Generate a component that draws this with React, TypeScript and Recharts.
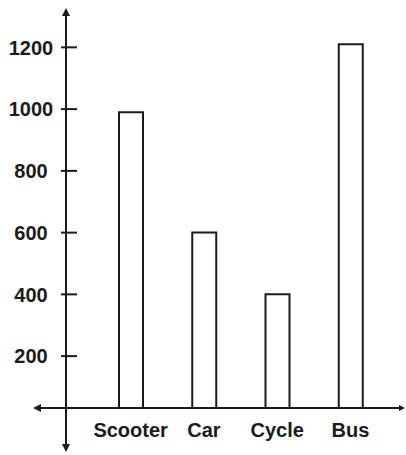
import React from "react";
import { BarChart, Bar, XAxis, YAxis } from "recharts";

const vehicles = ["Scooter", "Car", "Cycle", "Bus"];
const counts = [990, 600, 400, 1210];
const yTicks = [200, 400, 600, 800, 1000, 1200];

const data = vehicles.map((name, i) => ({ name, count: counts[i] }));

const W = 406;
const H = 455;
const PLOT_LEFT = 66;
const X_AXIS_H = 47;
const PLOT_BOTTOM = H - X_AXIS_H;
const INK = "#1b1b1b";
const FONT = "'Liberation Sans', Arial, Helvetica, sans-serif";

const YTick = (props: any) => {
  const { y, payload } = props;
  return (
    <g>
      <line x1={PLOT_LEFT - 5} x2={PLOT_LEFT + 11} y1={y} y2={y} stroke={INK} strokeWidth={2} />
      <text
        x={31}
        y={y}
        dy="0.36em"
        textAnchor="middle"
        fill={INK}
        fontFamily={FONT}
        fontWeight={700}
        fontSize={20}
      >
        {payload.value}
      </text>
    </g>
  );
};

const XTick = (props: any) => {
  const { x, payload } = props;
  return (
    <text
      x={x}
      y={PLOT_BOTTOM + 29}
      textAnchor="middle"
      fill={INK}
      fontFamily={FONT}
      fontWeight={700}
      fontSize={20}
    >
      {payload.value}
    </text>
  );
};

// axis lines with arrowheads, drawn over the chart
function Axes() {
  const a = 8; // arrowhead length
  const h = 4; // arrowhead half width
  return (
    <svg
      width={W}
      height={H}
      style={{ position: "absolute", left: 0, top: 0, pointerEvents: "none" }}
    >
      <line x1={PLOT_LEFT} x2={PLOT_LEFT} y1={10} y2={450} stroke={INK} strokeWidth={2} />
      <line x1={35} x2={402} y1={PLOT_BOTTOM} y2={PLOT_BOTTOM} stroke={INK} strokeWidth={2} />
      <polygon points={`${PLOT_LEFT},8 ${PLOT_LEFT - h},${8 + a} ${PLOT_LEFT + h},${8 + a}`} fill={INK} />
      <polygon points={`${PLOT_LEFT},452 ${PLOT_LEFT - h},${452 - a} ${PLOT_LEFT + h},${452 - a}`} fill={INK} />
      <polygon points={`33,${PLOT_BOTTOM} ${33 + a},${PLOT_BOTTOM - h} ${33 + a},${PLOT_BOTTOM + h}`} fill={INK} />
      <polygon points={`405,${PLOT_BOTTOM} ${405 - a + 2},${PLOT_BOTTOM - h + 1} ${405 - a + 2},${PLOT_BOTTOM + h - 1}`} fill={INK} />
    </svg>
  );
}

export default function App() {
  return (
    <div style={{ position: "absolute", left: 0, top: 0, width: W, height: H, background: "#fff" }}>
      <BarChart
        width={W}
        height={H}
        data={data}
        margin={{ top: 35, right: 1, bottom: 0, left: 0 }}
        barSize={24}
      >
        <XAxis
          dataKey="name"
          height={X_AXIS_H}
          axisLine={false}
          tickLine={false}
          tickSize={0}
          tickMargin={0}
          padding={{ left: 28, right: 18 }}
          tick={<XTick />}
          interval={0}
        />
        <YAxis
          width={PLOT_LEFT}
          domain={[32, 1240]}
          ticks={yTicks}
          axisLine={false}
          tickLine={false}
          tickSize={0}
          tickMargin={0}
          tick={<YTick />}
          interval={0}
        />
        <Bar dataKey="count" fill="#fff" stroke={INK} strokeWidth={2} isAnimationActive={false} />
      </BarChart>
      <Axes />
    </div>
  );
}
